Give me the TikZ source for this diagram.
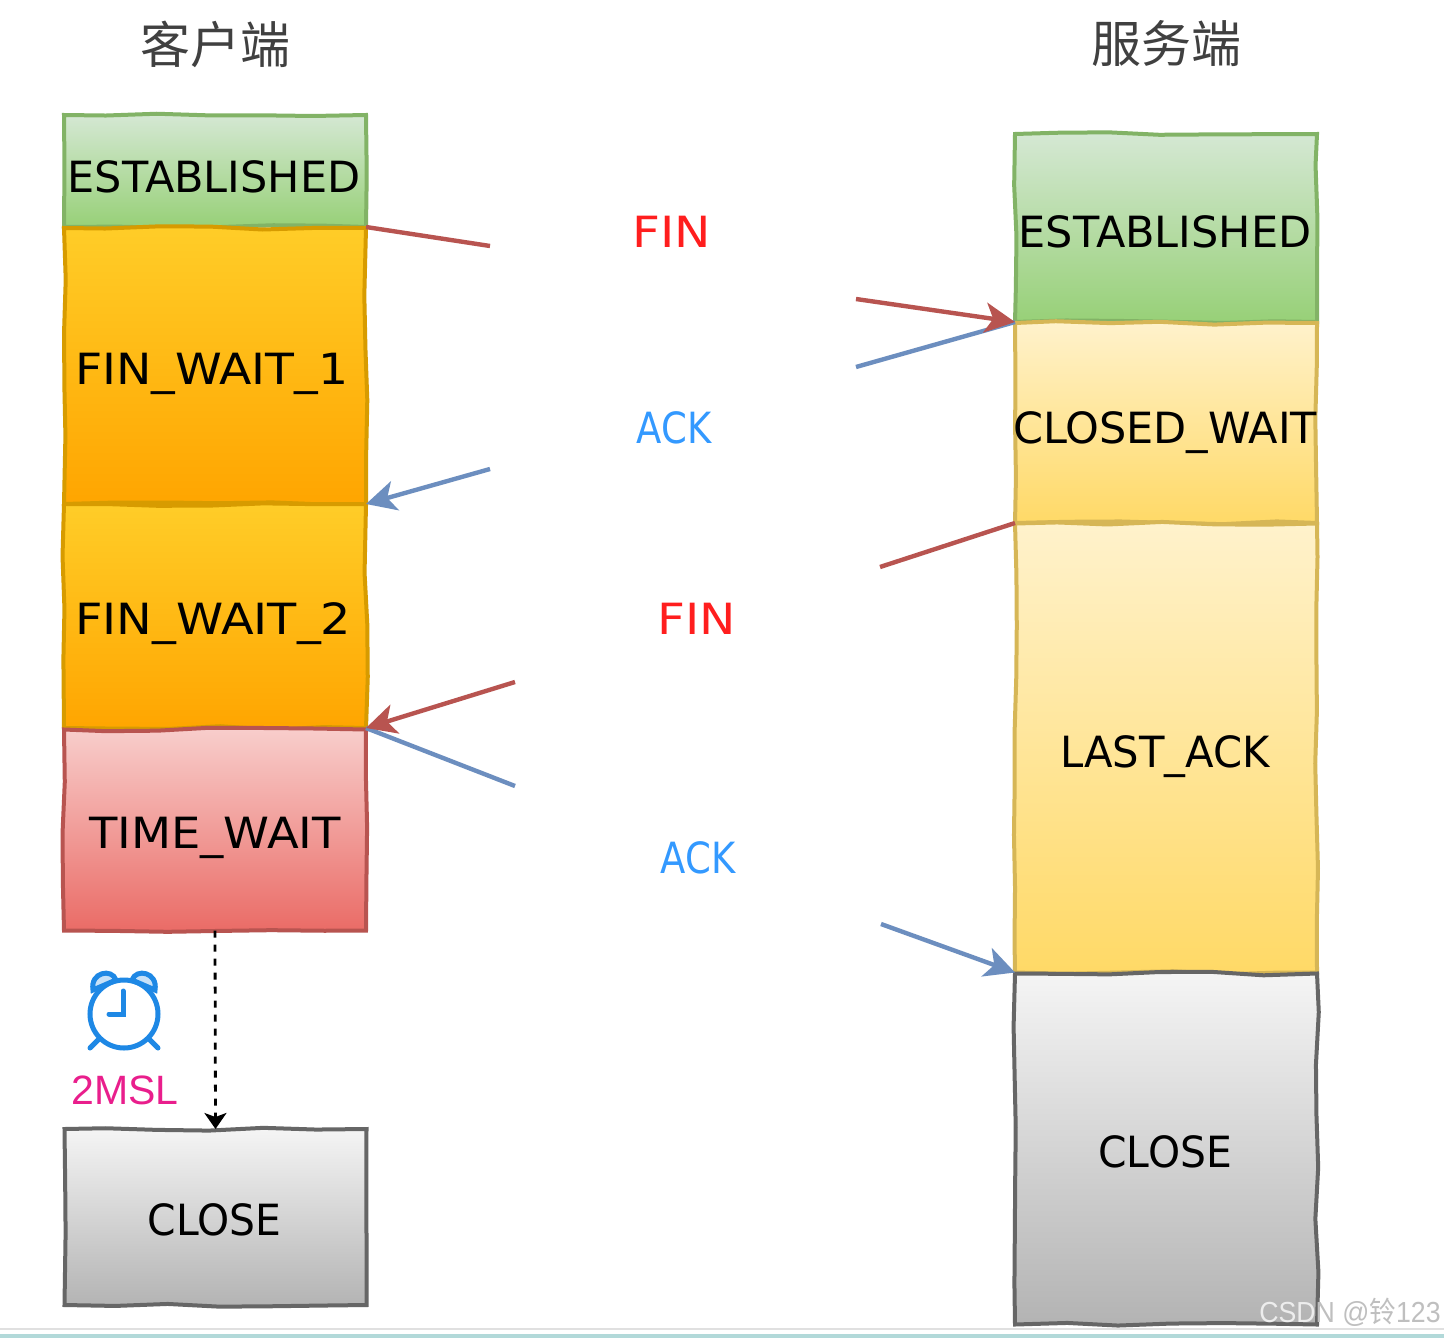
\documentclass[tikz,border=0pt]{standalone}
\usepackage{fontspec}
\usepackage{graphicx}
\setmainfont{DejaVu Sans}
\newfontfamily\cjk{Noto Sans CJK SC}
\newfontfamily\helv{Liberation Sans}
\usetikzlibrary{arrows.meta,decorations.pathmorphing,calc}
\pgfmathsetseed{7}
\definecolor{redln}{HTML}{B85450}
\definecolor{blueln}{HTML}{6C8EBF}
\definecolor{clockblue}{HTML}{1E88E5}
\definecolor{gtop}{HTML}{D5E8D4}\definecolor{gbot}{HTML}{97D077}\definecolor{gline}{HTML}{82B366}
\definecolor{otop}{HTML}{FFCD28}\definecolor{obot}{HTML}{FFA500}\definecolor{oline}{HTML}{D79B00}
\definecolor{ytop}{HTML}{FFF2CC}\definecolor{ybot}{HTML}{FFD966}\definecolor{yline}{HTML}{D6B656}
\definecolor{rtop}{HTML}{F8CECC}\definecolor{rbot}{HTML}{EA6B66}
\definecolor{ktop}{HTML}{F5F5F5}\definecolor{kbot}{HTML}{B3B3B3}\definecolor{kline}{HTML}{666666}
% #1 = caps centre below the box centre, in px; #2 = horizontal stretch; #3 = text
\newcommand\statetext[3]{\smash{\raisebox{-\dimexpr #1pt*1/2+7.85pt\relax}{\scalebox{#2}[1]{#3}}}}
\tikzset{
  x=0.5pt,y=-0.5pt,
  state/.style={draw,line width=2pt,minimum width=151pt,inner sep=0pt,outer sep=0pt,
    font=\fontsize{21.5}{25}\selectfont,text=black,
    decorate,decoration={random steps,segment length=26pt,amplitude=0.9pt}},
  gbox/.style={state,top color=gtop,bottom color=gbot,draw=gline},
  obox/.style={state,top color=otop,bottom color=obot,draw=oline},
  ybox/.style={state,top color=ytop,bottom color=ybot,draw=yline},
  rbox/.style={state,top color=rtop,bottom color=rbot,draw=redln},
  kbox/.style={state,top color=ktop,bottom color=kbot,draw=kline},
  redarrow/.style={draw=redln,line width=2.2pt},
  bluearrow/.style={draw=blueln,line width=2.2pt},
  tip/.style={-{Stealth[length=15pt,width=15pt,inset=4pt]}},
  title/.style={font=\cjk\fontsize{25}{30}\selectfont,text=black!75},
  msg/.style={font=\fontsize{21.5}{25}\selectfont},
}
\begin{document}
\begin{tikzpicture}
\useasboundingbox (0,0) rectangle (1444,1338);
\fill[white] (0,0) rectangle (1444,1338);
% page edge at the bottom
\fill[black!12] (0,1328) rectangle (1444,1330);
\fill[teal!30!white] (0,1334) rectangle (1444,1338);

\node[title] (tl) at (215,44) {客户端};
\node[title] (tr) at (1166,44) {服务端};

% client column
\node[gbox,minimum height=56pt] (cest) at (215,171) {\statetext{6}{1}{\hspace*{-1pt}ESTABLISHED}};
\node[obox,minimum height=138pt] (cf1) at (215,366) {\statetext{3}{1.10}{\hspace*{-3pt}FIN\_WAIT\_1}};
\node[obox,minimum height=112pt] (cf2) at (215,616) {\statetext{3}{1.11}{\hspace*{-1.5pt}FIN\_WAIT\_2}};
\node[rbox,minimum height=100.5pt] (ctw) at (215,830) {\statetext{3}{1.08}{TIME\_WAIT}};
\node[kbox,minimum height=88pt] (ccl) at (215.5,1217) {\statetext{3}{0.95}{\hspace*{-1pt}CLOSE}};

% server column
\node[gbox,minimum height=94pt] (sest) at (1166,228) {\statetext{4}{1}{\hspace*{-1pt}ESTABLISHED}};
\node[ybox,minimum height=100pt] (scw) at (1166,423) {\statetext{5}{1}{\hspace*{-1pt}CLOSED\_WAIT}};
\node[ybox,minimum height=224.5pt] (sla) at (1166,748) {\statetext{4}{0.97}{\hspace*{-1pt}LAST\_ACK}};
\node[kbox,minimum height=175.5pt] (scl) at (1166,1149) {\statetext{3}{0.95}{\hspace*{-1pt}CLOSE}};

% message labels
\node[msg,text={rgb,255:red,255;green,30;blue,30}] (m1) at (672,232) {\scalebox{1.13}[1]{FIN}};
\node[msg,text={rgb,255:red,51;green,153;blue,255}] (m2) at (674,428) {\scalebox{0.86}[1]{ACK}};
\node[msg,text={rgb,255:red,255;green,30;blue,30}] (m3) at (697,619) {\scalebox{1.13}[1]{FIN}};
\node[msg,text={rgb,255:red,51;green,153;blue,255}] (m4) at (698,858) {\scalebox{0.86}[1]{ACK}};

% free ends of the broken connectors
\coordinate (a1) at (490,246);
\coordinate (a2) at (856,299);
\coordinate (b1) at (856,367);
\coordinate (b2) at (490,469);
\coordinate (c1) at (880,567);
\coordinate (c2) at (515,682);
\coordinate (d1) at (515,786);
\coordinate (d2) at (881,924);

\draw[redarrow] (cest.south east) -- (a1);
\draw[bluearrow] (sest.south west) -- (b1);
\draw[redarrow,tip] (a2) -- (sest.south west);
\draw[bluearrow,tip] (b2) -- (cf1.south east);
\draw[redarrow] (scw.south west) -- (c1);
\draw[bluearrow] (cf2.south east) -- (d1);
\draw[redarrow,tip] (c2) -- (cf2.south east);
\draw[bluearrow,tip] (d2) -- (sla.south west);

% timer arrow
\draw[black,line width=1.4pt,dash pattern=on 3.5pt off 3.5pt,-{Stealth[length=8pt,width=11pt,inset=2pt]}] (ctw.south) -- (ccl.north);

% clock
\begin{scope}[clockblue,line width=2.5pt,line cap=round]
\node[circle,draw,line width=2.5pt,minimum size=34pt,inner sep=0pt] (clk) at (124,1014) {};
\draw (123,991) -- (123,1014) -- (109,1014);
\draw (98,1040) -- (90,1048);
\draw (150,1040) -- (158,1048);
\draw[fill=clockblue!25!white] (93,990) .. controls (90,972) and (112,968) .. (116,980) -- cycle;
\draw[fill=clockblue!25!white] (132,980) .. controls (136,968) and (158,972) .. (155,990) -- cycle;
\end{scope}
\node[font=\helv\fontsize{20.5}{24}\selectfont,text={rgb,255:red,233;green,30;blue,140}] (msl) at (125,1090) {2MSL};

% watermark
\node[anchor=east,font=\helv\fontsize{14.5}{17}\selectfont,text=black!25,inner sep=0pt] (wm) at (1441,1312) {\scalebox{0.92}[1]{{\color{white!93!black}CSD}N @{\cjk 铃}123}};
\end{tikzpicture}
\end{document}
